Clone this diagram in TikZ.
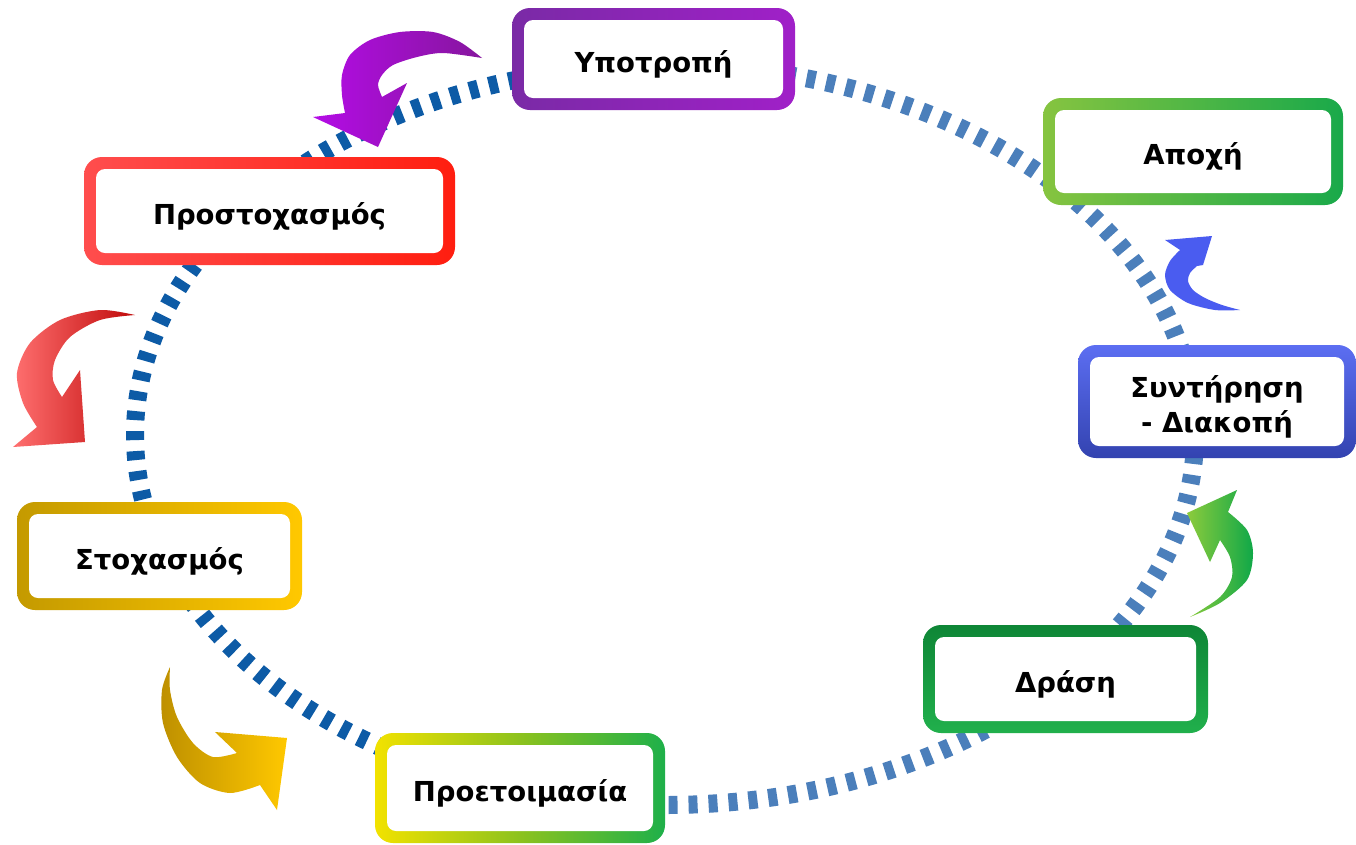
\documentclass[tikz,border=0pt]{standalone}
\usepackage{fontspec}
\setmainfont{DejaVu Sans}
\definecolor{ringL}{HTML}{0D5BA6}
\definecolor{ringR}{HTML}{4B7FBB}
\definecolor{purL}{HTML}{7A2AA6}
\definecolor{purR}{HTML}{A020C8}
\definecolor{grnL}{HTML}{86C440}
\definecolor{grnR}{HTML}{19A94A}
\definecolor{redL}{HTML}{FF4D4D}
\definecolor{redR}{HTML}{FF1E10}
\definecolor{bluT}{HTML}{5C6EF2}
\definecolor{bluB}{HTML}{3343B0}
\definecolor{golL}{HTML}{C49A00}
\definecolor{golR}{HTML}{FFC800}
\definecolor{dgrT}{HTML}{0E8636}
\definecolor{dgrB}{HTML}{21B04C}
\definecolor{preL}{HTML}{F2E200}
\definecolor{preM}{HTML}{8CC21E}
\definecolor{preR}{HTML}{1EB04A}
\definecolor{arPurL}{HTML}{B40CE6}
\definecolor{arPurR}{HTML}{86169E}
\definecolor{arRedL}{HTML}{FF7070}
\definecolor{arRedR}{HTML}{C00A0A}
\definecolor{arGolL}{HTML}{BE9000}
\definecolor{arGolR}{HTML}{FFC800}
\definecolor{arBlu}{HTML}{4A5CF0}
\definecolor{arGrnL}{HTML}{8CCB3C}
\definecolor{arGrnR}{HTML}{10A848}
\newcommand\stage[6]{%
  \node[frame, minimum width=#3, minimum height=#4, #5] (#1-frame) at #2 {};
  \node[innerbox, minimum width=#3-24, minimum height=#4-24] (#1-fill) at #2 {};
  \node[stagetext, yshift=-5pt] (#1) at #2 {#6};}
\begin{document}
\begin{tikzpicture}[x=1pt,y=-1pt,
  frame/.style={rectangle, rounded corners=18pt, inner sep=0pt, draw=none},
  innerbox/.style={rectangle, fill=white, rounded corners=9pt, inner sep=0pt},
  stagetext/.style={inner sep=0pt, align=center, text=black,
    font=\bfseries\fontsize{27.5}{35}\selectfont},
  ring/.style={line width=18pt, dash pattern=on 9pt off 11pt}]

\useasboundingbox[fill=white] (0,0) rectangle (1356,844);

% dashed ring
\begin{scope}
  \clip (0,0) rectangle (665,844);
  \draw[ring, draw=ringL] (665,435) ellipse [x radius=530, y radius=370];
\end{scope}
\begin{scope}
  \clip (665,0) rectangle (1356,844);
  \draw[ring, draw=ringR] (665,435) ellipse [x radius=530, y radius=370];
\end{scope}

% stages
\stage{ypo}{(653.5,59)}{283}{102}{left color=purL, right color=purR}{Υποτροπή}
\stage{apo}{(1193,151.5)}{300}{107}{left color=grnL, right color=grnR}{Αποχή}
\stage{pro}{(269.5,211)}{371}{108}{left color=redL, right color=redR}{Προστοχασμός}
\stage{syn}{(1217,401.5)}{278}{113}{top color=bluT, bottom color=bluB}{Συντήρηση\\ - Διακοπή}
\stage{sto}{(159.5,556)}{285}{108}{left color=golL, right color=golR}{Στοχασμός}
\stage{dra}{(1065.5,679)}{285}{108}{top color=dgrT, bottom color=dgrB}{Δράση}
\stage{pre}{(520,788)}{290}{110}{left color=preL, right color=preR, middle color=preM}{Προετοιμασία}

% curved arrows
\shade[left color=arPurL, right color=arPurR]
  plot[smooth] coordinates {(482,58) (460,42) (433,32) (400,32) (370,40) (350,55) (342,75) (342,95) (345,113)}
  -- (313,117) -- (378,147) -- (407,83)
  -- plot[smooth] coordinates {(382,97) (378,85) (382,75) (393,65) (417,57) (443,53) (482,58)} -- cycle;

\shade[left color=arRedL, right color=arRedR]
  plot[smooth] coordinates {(135,315) (100,310) (60,320) (30,343) (17,373) (23,403) (37,427)}
  -- (13,447) -- (85,442) -- (80,370)
  -- plot[smooth] coordinates {(62,397) (53,380) (55,360) (70,337) (100,320) (135,315)} -- cycle;

\shade[left color=arGolL, right color=arGolR]
  plot[smooth] coordinates {(170,667) (162,690) (163,723) (177,757) (200,783) (230,793) (260,785)}
  -- (277,810) -- (287,738) -- (215,732)
  -- plot[smooth] coordinates {(237,753) (213,757) (193,743) (177,717) (170,690) (170,667)} -- cycle;

\fill[arBlu]
  plot[smooth] coordinates {(1240,310) (1215,310) (1188,303) (1170,290) (1165,275) (1170,261) (1180,250)}
  -- (1165,240) -- (1212,236) -- (1203,265)
  -- plot[smooth] coordinates {(1197,266) (1190,273) (1188,281) (1193,290) (1205,298) (1222,305) (1240,310)} -- cycle;

\shade[left color=arGrnL, right color=arGrnR]
  plot[smooth] coordinates {(1190,617) (1220,603) (1247,580) (1253,553) (1247,530) (1228,512)}
  -- (1237,490) -- (1187,513) -- (1210,562)
  -- plot[smooth] coordinates {(1220,540) (1230,557) (1232,577) (1220,597) (1190,617)} -- cycle;
\end{tikzpicture}
\end{document}
